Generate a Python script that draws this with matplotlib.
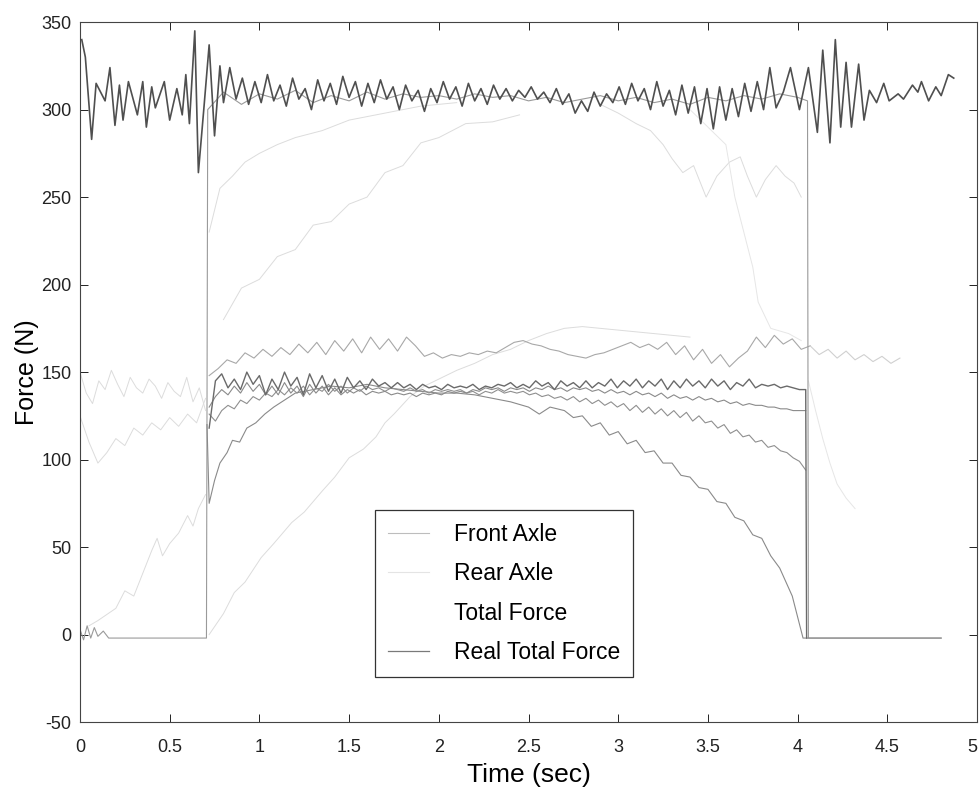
import numpy as np
import matplotlib
matplotlib.use("Agg")
import matplotlib.pyplot as plt
from matplotlib.lines import Line2D

plt.rcParams['font.family'] = ['Liberation Sans', 'DejaVu Sans']

# ---- axis ticks ----
x_ticks = [0, 0.5, 1, 1.5, 2, 2.5, 3, 3.5, 4, 4.5, 5]
x_tick_labels = ['0', '0.5', '1', '1.5', '2', '2.5', '3', '3.5', '4', '4.5', '5']
y_ticks = [-50, 0, 50, 100, 150, 200, 250, 300, 350]
y_tick_labels = ['-50', '0', '50', '100', '150', '200', '250', '300', '350']

real_head_t = [0.01, 0.03, 0.065, 0.09, 0.14, 0.167, 0.195, 0.22, 0.24, 0.27, 0.32, 0.35,
               0.37, 0.40, 0.42, 0.47, 0.50, 0.54, 0.57, 0.59, 0.61, 0.64, 0.66, 0.69,
               0.72, 0.75, 0.78, 0.80, 0.835]
real_head_f = [340, 330, 283, 315, 305, 324, 291, 314, 294, 316, 297, 316,
               290, 313, 301, 316, 294, 312, 297, 320, 292, 345, 264, 300,
               337, 285, 325, 304, 324]
real_mid_f = [306, 318, 303, 316, 304, 320, 305, 314, 302, 318, 306, 312, 300, 317, 305, 315, 303, 319, 307, 316, 302,
              315, 304, 317, 306, 313, 300, 314, 305, 311, 299, 312, 304, 316, 306, 313, 302, 315, 305, 312, 303,
              314, 306, 312, 305, 311, 307, 313, 306, 310, 304, 312, 303, 309, 298, 305, 299, 310, 302, 309, 304,
              313, 303, 315, 305, 312, 300, 316, 302, 311, 297, 314, 298, 313, 292, 312, 289, 313, 294, 312, 296,
              315, 299, 316, 300, 324, 301]
real_tail_t = [3.92, 3.96, 4.01, 4.06, 4.11, 4.14, 4.18, 4.21, 4.24, 4.27, 4.30, 4.34, 4.37,
               4.40, 4.44, 4.48, 4.51, 4.56, 4.59, 4.64, 4.67, 4.69, 4.73, 4.77, 4.80, 4.84, 4.87]
real_tail_f = [310, 324, 300, 324, 287, 334, 281, 340, 290, 327, 290, 326, 294,
               311, 304, 315, 305, 309, 306, 314, 310, 316, 305, 313, 308, 320, 318]

# ---- simulated total force (step at contact / release) ----
total_t = [0.0, 0.02, 0.04, 0.06, 0.08, 0.10, 0.13, 0.16, 0.705, 0.712,
           0.8, 0.9, 1.0, 1.1, 1.2, 1.3, 1.4, 1.5, 1.6, 1.7, 1.8, 1.9, 2.0, 2.1, 2.2, 2.3,
           2.4, 2.5, 2.6, 2.7, 2.8, 2.9, 3.0, 3.1, 3.2, 3.3, 3.4, 3.5, 3.6, 3.7, 3.8, 3.9,
           4.0, 4.055, 4.06, 4.80]
total_f = [3, -3, 5, -2, 4, -1, 2, -2, -2, 300,
           310, 303, 309, 306, 311, 304, 308, 305, 310, 306, 309, 307, 308, 306, 309, 307,
           308, 305, 307, 304, 306, 308, 305, 307, 304, 306, 303, 307, 305, 308, 306, 309,
           307, 305, -2, -2]

# ---- simulated axle-group traces on a common grid 0.72 .. 4.045 s ----
front_sim = [118, 145, 149, 141, 146, 140, 150, 143, 148, 137,
             146, 140, 150, 142, 147, 137, 149, 141, 148, 139,
             146, 138, 147, 141, 145, 140, 146, 142, 144, 141,
             144, 141, 143, 140, 143, 141, 142, 140, 143, 141,
             142, 141, 143, 140, 142, 141, 143, 142, 144, 141,
             143, 141, 145, 142, 144, 140, 145, 142, 144, 141,
             145, 141, 144, 142, 146, 141, 145, 142, 146, 141,
             145, 142, 146, 140, 145, 141, 146, 142, 145, 141,
             146, 142, 145, 140, 144, 142, 146, 141, 143, 142,
             143, 141, 142, 141, 140, 140]
mid_sim = [130, 136, 140, 137, 142, 138, 144, 139, 143, 137,
           142, 137, 144, 138, 142, 136, 143, 138, 142, 137,
           141, 137, 140, 138, 140, 137, 139, 138, 139, 137,
           138, 137, 138, 136, 138, 137, 138, 137, 139, 138,
           139, 138, 140, 139, 141, 140, 141, 139, 141, 140,
           141, 139, 141, 140, 142, 140, 141, 139, 141, 140,
           141, 139, 140, 138, 140, 138, 139, 137, 139, 137,
           138, 136, 138, 135, 137, 135, 136, 134, 136, 134,
           135, 133, 134, 132, 133, 131, 132, 131, 131, 130,
           130, 129, 129, 128, 128, 128]
low_sim = [126, 122, 128, 131, 129, 134, 132, 136, 134, 138,
           136, 140, 137, 141, 138, 142, 137, 141, 139, 143,
           139, 142, 138, 141, 139, 142, 140, 141, 139, 141,
           140, 139, 141, 139, 140, 138, 140, 139, 140, 139,
           140, 138, 139, 137, 139, 138, 140, 138, 139, 138,
           139, 137, 138, 136, 137, 135, 136, 134, 136, 133,
           135, 132, 134, 131, 133, 130, 132, 128, 131, 127,
           130, 126, 129, 125, 128, 124, 127, 122, 125, 121,
           122, 118, 120, 115, 117, 113, 114, 110, 111, 107,
           108, 105, 104, 101, 99, 94]

# ---- lower transient curve (rises after contact, falls to zero) ----
decay_t = [0.708, 0.72, 0.75, 0.78, 0.82, 0.85, 0.89, 0.93, 0.98, 1.03, 1.08, 1.14, 1.2,
           1.3, 1.4, 1.5, 1.6, 1.7, 1.8, 1.9, 2.0, 2.1, 2.2, 2.3, 2.4, 2.5, 2.56, 2.62,
           2.7, 2.75, 2.8, 2.85, 2.9, 2.95, 3.0, 3.05, 3.1, 3.15, 3.2, 3.25, 3.3, 3.35,
           3.4, 3.45, 3.5, 3.55, 3.6, 3.65, 3.7, 3.75, 3.8, 3.85, 3.9, 3.97, 4.03, 4.80]
decay_f = [120, 75, 88, 98, 104, 111, 110, 118, 121, 126, 130, 134, 138,
           140, 142, 141, 143, 141, 140, 139, 138, 138, 137, 135, 133, 130, 126, 130,
           128, 124, 125, 119, 121, 114, 116, 109, 111, 104, 105, 98, 98, 91,
           90, 84, 83, 76, 75, 67, 65, 57, 55, 45, 38, 22, -2, -2]

# ---- rear-axle style trace around 160 N (0.05 s grid from 0.72 s) ----
upper_band = [148, 152, 157, 155, 161, 158, 163, 159, 164, 160,
              166, 161, 167, 160, 168, 162, 169, 161, 170, 163,
              169, 162, 170, 165, 159, 161, 158, 160, 159, 161,
              160, 162, 161, 164, 167, 168, 166, 165, 163, 162,
              160, 159, 158, 160, 161, 163, 165, 167, 164, 166,
              163, 167, 160, 165, 157, 163, 155, 160, 153, 158,
              162, 170, 164, 171, 166, 169, 163, 165, 160, 163,
              158, 162, 157, 160, 156, 159, 155, 158]

# ---- faint traces ----
pre_band = [150, 138, 132, 145, 140, 151, 143, 136, 147, 141, 138,
            146, 142, 135, 144, 139, 136, 147, 133, 141, 128]
pre_low = [125, 110, 98, 104, 112, 108, 118, 114, 121, 117, 124, 119, 126, 121, 135]
pre_rise_t = [0.05, 0.1, 0.2, 0.25, 0.3, 0.35, 0.4, 0.43, 0.46, 0.5, 0.55, 0.6, 0.63, 0.66, 0.7]
pre_rise_f = [5, 8, 15, 25, 22, 35, 48, 55, 45, 52, 58, 68, 62, 72, 80]
slow_rise_t = [0.72, 0.8, 0.86, 0.92, 1.01, 1.08, 1.18, 1.25, 1.35, 1.42, 1.5, 1.58, 1.65, 1.7,
               1.75, 1.84, 1.92, 2.0, 2.1, 2.2, 2.3, 2.4, 2.5, 2.6, 2.7, 2.8, 2.9, 3.0, 3.2, 3.4]
slow_rise_f = [0, 12, 24, 30, 44, 52, 64, 70, 82, 90, 101, 106, 113, 121,
               126, 136, 142, 146, 151, 155, 160, 163, 168, 172, 175, 176, 175, 174, 172, 170]
top_fast_t = [0.72, 0.78, 0.85, 0.92, 1.0, 1.1, 1.2, 1.35, 1.5, 1.7, 1.9, 2.1]
top_fast_f = [230, 255, 262, 270, 275, 280, 284, 288, 294, 298, 302, 304]
top_slow_t = [0.8, 0.9, 1.0, 1.1, 1.2, 1.3, 1.4, 1.5, 1.6, 1.7, 1.8, 1.9, 2.0, 2.15, 2.3, 2.45]
top_slow_f = [180, 198, 203, 216, 220, 234, 236, 246, 250, 264, 268, 281, 284, 292, 293, 297]
drop_a_t = [2.9, 3.0, 3.1, 3.18, 3.25, 3.3, 3.36, 3.42, 3.49, 3.55, 3.62, 3.68, 3.72,
            3.77, 3.82, 3.88, 3.93, 3.98, 4.02]
drop_a_f = [303, 298, 292, 288, 280, 272, 264, 268, 250, 262, 270, 273, 262,
            250, 260, 268, 262, 258, 250]
drop_b_t = [3.4, 3.5, 3.6, 3.65, 3.7, 3.75, 3.78, 3.85, 3.95, 4.02]
drop_b_f = [300, 290, 280, 250, 230, 210, 190, 175, 172, 168]
after_t = [4.06, 4.1, 4.14, 4.18, 4.22, 4.27, 4.32]
after_f = [145, 128, 112, 98, 86, 78, 72]

# ---- legend ----
legend_labels = ['Front Axle', 'Rear Axle', 'Total Force', 'Real Total Force']

fig = plt.figure(figsize=(9.8, 7.9), dpi=100)
ax = fig.add_axes([0.0816, 0.086, 0.9154, 0.886])

sim_t = np.linspace(0.72, 4.045, len(front_sim))
band_t = np.linspace(0.72, 4.57, len(upper_band))
pre_t = np.linspace(0.0, 0.7, len(pre_band))
pre_low_t = np.linspace(0.0, 0.7, len(pre_low))
real_mid_t = np.linspace(0.87, 3.88, len(real_mid_f))

faint = '#dcdcdc'
ax.plot(pre_t, pre_band, color=faint, lw=0.7)
ax.plot(pre_low_t, pre_low, color=faint, lw=0.7)
ax.plot(pre_rise_t, pre_rise_f, color=faint, lw=0.7)
ax.plot(slow_rise_t, slow_rise_f, color=faint, lw=0.7)
ax.plot(top_fast_t, top_fast_f, color=faint, lw=0.7)
ax.plot(top_slow_t, top_slow_f, color=faint, lw=0.7)
ax.plot(drop_a_t, drop_a_f, color=faint, lw=0.7)
ax.plot(drop_b_t, drop_b_f, color='#e6e6e6', lw=0.7)
ax.plot(after_t, after_f, color='#e6e6e6', lw=0.7)

# rear-band, brighter after release
cut = np.searchsorted(band_t, 4.06)
ax.plot(band_t[:cut + 1], upper_band[:cut + 1], color='#a8a8a8', lw=0.8)
ax.plot(band_t[cut:], upper_band[cut:], color='#d0d0d0', lw=0.8)

ax.plot(total_t, total_f, color='#9a9a9a', lw=0.8)
ax.plot(decay_t, decay_f, color='#8a8a8a', lw=0.8)
ax.plot(sim_t, low_sim, color='#8f8f8f', lw=0.8)
ax.plot(sim_t, mid_sim, color='#8a8a8a', lw=0.8)
ax.plot(list(sim_t) + [4.05], front_sim + [-2], color='#6a6a6a', lw=1.0)

real_t = real_head_t + list(real_mid_t) + real_tail_t
real_f = real_head_f + real_mid_f + real_tail_f
ax.plot(real_t, real_f, color='#4f4f4f', lw=1.2, solid_joinstyle='round')

ax.set_xlim(0, 5)
ax.set_ylim(-50, 350)
ax.set_xticks(x_ticks)
ax.set_xticklabels(x_tick_labels)
ax.set_yticks(y_ticks)
ax.set_yticklabels(y_tick_labels)
ax.tick_params(direction='in', top=True, right=True, length=6, width=0.7,
               labelsize=13, colors='#222222')
ax.tick_params(axis='x', pad=12)
ax.tick_params(axis='y', pad=6)
ax.get_xticklabels()[-1].set_horizontalalignment('right')
for s in ax.spines.values():
    s.set_color('#444444')
    s.set_linewidth(0.8)

ax.set_xlabel('Time (sec)', fontsize=19, labelpad=5)
ax.set_ylabel('Force (N)', fontsize=18, labelpad=2)

handles = [Line2D([], [], color='#bdbdbd', lw=0.8),
           Line2D([], [], color='#e4e4e4', lw=0.8),
           Line2D([], [], color='#ffffff', lw=0.8),
           Line2D([], [], color='#7a7a7a', lw=0.9)]
leg = ax.legend(handles, legend_labels, loc='upper left',
                bbox_to_anchor=(0.383, 0.354), bbox_transform=fig.transFigure,
                borderaxespad=0, fontsize=16.5, handlelength=1.8, handletextpad=1.1,
                labelspacing=0.72, borderpad=0.55, fancybox=False, framealpha=1)
leg.get_frame().set_edgecolor('#333333')
leg.get_frame().set_linewidth(0.9)

fig.savefig('out.png', dpi=100)
